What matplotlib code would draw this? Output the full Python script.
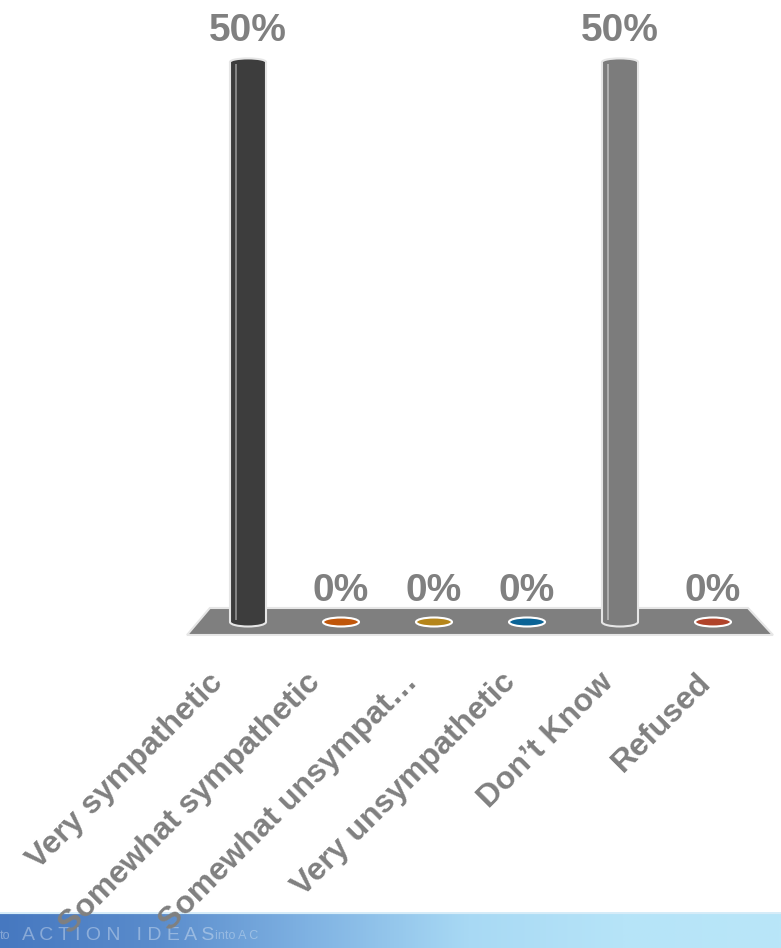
import matplotlib
matplotlib.use('Agg')
import matplotlib.pyplot as plt
import numpy as np
from matplotlib.patches import Ellipse, Polygon
from matplotlib.colors import LinearSegmentedColormap

categories = ["Very sympathetic", "Somewhat sympathetic", "Somewhat unsympat\u2026",
              "Very unsympathetic", "Don\u2019t Know", "Refused"]
values = [50, 0, 0, 0, 50, 0]
value_labels = ["50%", "0%", "0%", "0%", "50%", "0%"]
colors = ["#3d3d3d", "#c0560a", "#b5851a", "#0a6396", "#7c7c7c", "#b0432a"]
highlights = ["#8c8c8c", None, None, None, "#b4b4b4", None]

FONT = ["Liberation Sans", "DejaVu Sans"]
W, H = 781, 948
fig = plt.figure(figsize=(W / 100, H / 100), dpi=100)

# bottom banner (drawn first, underneath)
ax2 = fig.add_axes([0, 0, 1, 36 / H])
cmap = LinearSegmentedColormap.from_list("band", ["#4678c0", "#5a8ccc", "#80b3e3", "#a8d9f4", "#b6e4f8", "#b9e6f8"])
grad = np.linspace(0, 1, 512).reshape(1, -1)
ax2.imshow(grad, aspect='auto', cmap=cmap, extent=[0, 1, 0, 1])
ax2.set_xlim(0, 1)
ax2.set_ylim(0, 1)
ax2.axis('off')
ax2.text(0.0, 0.32, "to", fontsize=9, color="white", alpha=0.35, family=FONT, va='center')
ax2.text(0.028, 0.36, "A C T I O N   I D E A S", fontsize=14, color="white", alpha=0.35,
         family=FONT, va='center')
ax2.text(0.275, 0.32, "into A C", fontsize=9, color="white", alpha=0.3, family=FONT, va='center')
ax2.axhline(1.0, color="#d6ecf8", lw=3)

ax = fig.add_axes([0, 0, 1, 1])
ax.patch.set_alpha(0)
x0px, dxpx = 248, 93
y0px, dypx = 622, 11.2
ax.set_xlim(-x0px / dxpx, (W - x0px) / dxpx)
ax.set_ylim(-(H - y0px) / dypx, y0px / dypx)
ax.axis('off')

n = len(categories)
w = 36 / dxpx
eh = 9 / dypx

# floor
floor = Polygon([(-0.41, 1.25), (n - 1 + 0.376, 1.25), (n - 1 + 0.645, -1.16), (-0.656, -1.16)],
                closed=True, fc="#7f7f7f", ec="#e6e6e6", lw=1.5, zorder=1)
ax.add_patch(floor)

for i, (v, c) in enumerate(zip(values, colors)):
    if v > 0:
        ax.add_patch(Ellipse((i, 0), w, eh, fc=c, ec="#e6e6e6", lw=1.5, zorder=2))
        ax.bar(i, v, w, bottom=0, color=c, lw=0, zorder=3)
        ax.add_patch(Ellipse((i, v), w, eh * 0.8, fc=c, ec="#e6e6e6", lw=1.5, zorder=4))
        ax.bar(i, 1.0, w, bottom=v - 1.0, color=c, lw=0, zorder=5)
        ax.vlines([i - w / 2, i + w / 2], 0, v, colors="#e6e6e6", lw=1.5, zorder=6)
        ax.vlines([i - 0.13], 0.2, v - 0.2, colors=highlights[i], lw=1.3, zorder=6)
    else:
        ax.add_patch(Ellipse((i, 0), w, eh, fc=c, ec="white", lw=1.5, zorder=3))

for i, (v, lab) in enumerate(zip(values, value_labels)):
    ax.text(i, v + 2.8, lab, ha='center', va='center', fontsize=28, fontweight='bold',
            color="#808080", family=FONT, zorder=7)

for i, cat in enumerate(categories):
    ax.text(i * 1.05 - 0.32, -5.0, cat, rotation=45, rotation_mode='anchor', ha='right', va='center',
            fontsize=23, fontweight='bold', color="#808080", family=FONT, zorder=7)

fig.savefig("out.png", dpi=100)
